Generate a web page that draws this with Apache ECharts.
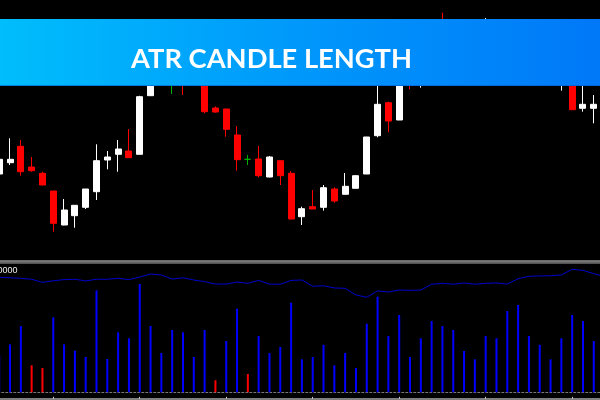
<!DOCTYPE html>
<html>
<head>
<meta charset="utf-8">
<script src="https://cdn.jsdelivr.net/npm/echarts@6/dist/echarts.min.js"></script>
<style>
html,body{margin:0;padding:0;background:#000;}
#chart{width:600px;height:400px;}
</style>
</head>
<body>
<div id="chart"></div>
<script>
// Hourly bars (time axis labels are cut off in the picture)
const categories = [
 '11.03 00:00','11.03 01:00','11.03 02:00','11.03 03:00','11.03 04:00','11.03 05:00','11.03 06:00','11.03 07:00',
 '11.03 08:00','11.03 09:00','11.03 10:00','11.03 11:00','11.03 12:00','11.03 13:00','11.03 14:00','11.03 15:00',
 '11.03 16:00','11.03 17:00','11.03 18:00','11.03 19:00','11.03 20:00','11.03 21:00','11.03 22:00','11.03 23:00',
 '12.03 00:00','12.03 01:00','12.03 02:00','12.03 03:00','12.03 04:00','12.03 05:00','12.03 06:00','12.03 07:00',
 '12.03 08:00','12.03 09:00','12.03 10:00','12.03 11:00','12.03 12:00','12.03 13:00','12.03 14:00','12.03 15:00',
 '12.03 16:00','12.03 17:00','12.03 18:00','12.03 19:00','12.03 20:00','12.03 21:00','12.03 22:00','12.03 23:00',
 '13.03 00:00','13.03 01:00','13.03 02:00','13.03 03:00','13.03 04:00','13.03 05:00','13.03 06:00','13.03 07:00',
 '13.03 08:00'
];
const openP = [
 1.08860,1.08973,1.09137,1.08930,1.08867,1.08690,1.08350,1.08443,1.08527,1.08683,
 1.09000,1.09057,1.09090,1.09057,1.09643,1.09960,1.09880,1.09880,1.09800,1.09780,
 1.09520,1.09510,1.09250,1.09007,1.09010,1.08830,1.08993,1.08867,1.08433,1.08533,
 1.08527,1.08710,1.08657,1.08717,1.08860,1.09243,1.09573,1.09400,1.09800,1.09760,
 1.09980,1.10400,1.10160,1.10000,1.10100,1.10150,1.10350,1.10150,1.09850,1.10200,
 1.09950,1.10020,1.09750,1.09900,1.09517,1.09517,'-'
];
const closeP = [
 1.09007,1.09007,1.08883,1.08893,1.08750,1.08367,1.08500,1.08547,1.08710,1.08993,
 1.09030,1.09110,1.09023,1.09633,1.09960,1.09880,1.09880,1.09760,1.09760,1.09483,
 1.09480,1.09307,1.09003,1.09007,1.08843,1.09030,1.08843,1.08410,1.08513,1.08510,
 1.08723,1.08590,1.08737,1.08843,1.09230,1.09557,1.09390,1.09780,1.09760,1.09980,
 1.10100,1.10160,1.10000,1.10100,1.10080,1.10350,1.10150,1.09900,1.10200,1.09980,
 1.10100,1.09920,1.09940,1.09503,1.09557,1.09557,'-'
];
const lowP = [
 1.08840,1.08950,1.08843,1.08883,1.08747,1.08283,1.08347,1.08323,1.08510,1.08600,
 1.08907,1.08883,1.09023,1.09057,1.09640,1.09810,1.09660,1.09650,1.09750,1.09467,
 1.09472,1.09233,1.08893,1.08950,1.08827,1.08827,1.08750,1.08407,1.08350,1.08510,
 1.08493,1.08573,1.08657,1.08717,1.08860,1.09227,1.09277,1.09400,1.09707,1.09723,
 1.09765,1.10115,1.09963,1.09927,1.10022,1.10116,1.10058,1.09861,1.09778,1.09896,
 1.09893,1.09872,1.09693,1.09500,1.09483,1.09367,'-'
];
const highP = [
 1.09030,1.09217,1.09200,1.09030,1.08883,1.08690,1.08610,1.08547,1.08710,1.09157,
 1.09090,1.09200,1.09310,1.09642,1.10000,1.10020,1.09997,1.09974,1.09940,1.09804,
 1.09537,1.09510,1.09340,1.09050,1.09140,1.09040,1.08993,1.08890,1.08533,1.08700,
 1.08750,1.08727,1.08870,1.08848,1.09231,1.09744,1.09583,1.09818,1.09898,1.10015,
 1.10150,1.10473,1.10300,1.10150,1.10200,1.10420,1.10350,1.10300,1.10250,1.10200,
 1.10150,1.10050,1.09985,1.09918,1.09868,1.09650,'-'
];
// candle length histogram (pips)
const candleLength = [
 20.0,25.9,35.8,14.6,13.1,40.5,25.9,22.5,19.1,55.1,
 18.0,32.4,29.2,58.5,35.8,21.2,33.7,32.4,19.1,33.7,
 6.5,27.7,45.2,9.9,30.4,21.2,24.5,48.4,17.8,19.1,
 25.7,14.6,21.2,13.1,37.1,51.7,30.4,41.8,19.1,29.2,
 38.5,35.8,33.7,22.3,17.8,30.4,29.2,43.9,47.2,30.4,
 25.7,17.8,29.2,41.8,38.5,27.7,'-'
];
// ATR line (pips)
const atrLine = [
 62.2,61.9,61.6,61.1,59.4,60.3,60.9,61.1,60.2,61.1,
 61.1,61.6,60.9,62.3,63.9,63.4,61.2,61.9,60.7,59.8,
 58.5,58.5,59.6,58.9,60.5,58.5,58.4,60.5,60.7,57.3,
 57.6,56.4,56.2,52.6,51.4,54.8,54.2,55.3,55.1,55.3,
 58.4,58.9,58.4,59.1,58.4,58.9,59.1,58.5,61.4,62.7,
 62.9,63.0,63.4,66.5,65.9,64.1,62.6
];
const shortBars = [3, 4, 20, 23];
const dojiBars = [16, 23];

const BULL = '#ffffff', BEAR = '#ff0000', DOJI = '#00b000';
const candleData = categories.map((c, i) => {
  if (openP[i] === '-') return '-';
  const v = [openP[i], closeP[i], lowP[i], highP[i]];
  if (dojiBars.includes(i)) {
    return {value: v, itemStyle: {color: DOJI, color0: DOJI, borderColor: DOJI, borderColor0: DOJI, borderColorDoji: DOJI}};
  }
  return v;
});
const barData = candleLength.map((v, i) => ({
  value: v,
  itemStyle: {color: shortBars.includes(i) ? '#ff0000' : '#0000ff'}
}));

const chart = echarts.init(document.getElementById('chart'), null, {renderer: 'canvas'});
const gridLeft = -6.2, gridWidth = 616.2;
chart.setOption({
  backgroundColor: '#000000',
  animation: false,
  grid: [
    {left: gridLeft, width: gridWidth, top: 0, height: 260, containLabel: false, outerBoundsMode: 'none'},
    {left: gridLeft, width: gridWidth, top: 262.8, height: 129.5, containLabel: false, outerBoundsMode: 'none'}
  ],
  xAxis: [
    {type: 'category', data: categories, gridIndex: 0, boundaryGap: true, show: false},
    {type: 'category', data: categories, gridIndex: 1, boundaryGap: true,
     axisLine: {show: true, lineStyle: {color: '#7a7a7a', width: 1, type: [2, 2]}},
     axisTick: {show: false}, axisLabel: {show: false}, splitLine: {show: false}},
    {type: 'category', data: categories, gridIndex: 1, boundaryGap: true, position: 'bottom', offset: 6.5,
     axisLine: {show: true, lineStyle: {color: '#7f7f7f', width: 3}},
     axisTick: {show: true, alignWithLabel: true, length: 2, inside: true,
                interval: (idx) => (idx - 5) % 8 === 0, lineStyle: {color: '#c8c8c8'}},
     axisLabel: {show: false}, splitLine: {show: false}}
  ],
  yAxis: [
    {type: 'value', gridIndex: 0, min: 1.0800, max: 1.1060, show: false, splitLine: {show: false}},
    {type: 'value', gridIndex: 1, min: 0, max: 70, show: false, splitLine: {show: false}}
  ],
  series: [
    {type: 'candlestick', xAxisIndex: 0, yAxisIndex: 0, data: candleData, barWidth: 6.5,
     itemStyle: {color: BULL, color0: BEAR, borderColor: BULL, borderColor0: BEAR, borderColorDoji: DOJI, borderWidth: 1}},
    {type: 'bar', xAxisIndex: 1, yAxisIndex: 1, data: barData, barWidth: 2},
    {type: 'line', xAxisIndex: 1, yAxisIndex: 1, data: atrLine, symbol: 'none', smooth: false,
     lineStyle: {color: '#0000cc', width: 1}, z: 3}
  ],
  graphic: [
    {type: 'rect', z: 100, shape: {x: 0, y: 19, width: 600, height: 67},
     style: {fill: new echarts.graphic.LinearGradient(0, 0, 1, 0, [
       {offset: 0, color: '#00bdfc'}, {offset: 0.5, color: '#0098fb'}, {offset: 1, color: '#0078f8'}])}},
    {type: 'rect', z: 101, shape: {x: 0, y: 85, width: 600, height: 1},
     style: {fill: 'rgba(0,90,200,0.6)'}},
    {type: 'text', z: 102, x: 271.5, y: 59,
     style: {text: 'ATR CANDLE LENGTH', fill: '#ffffff', font: 'bold 27.3px Lato',
             textAlign: 'center', textVerticalAlign: 'middle'}},
    {type: 'rect', z: 100, shape: {x: 0, y: 260.5, width: 600, height: 3}, style: {fill: '#3a3a3a'}},
    {type: 'rect', z: 101, shape: {x: 0, y: 260.5, width: 600, height: 1}, style: {fill: '#b8b8b8'}},
    {type: 'rect', z: 101, shape: {x: 0, y: 262.5, width: 600, height: 1}, style: {fill: '#8c8c8c'}},
    {type: 'text', z: 102, x: 17.5, y: 271,
     style: {text: '0.00000', fill: '#f0f0f0', font: '9px "Liberation Sans"',
             textAlign: 'right', textVerticalAlign: 'middle'}}
  ]
});
</script>
</body>
</html>
